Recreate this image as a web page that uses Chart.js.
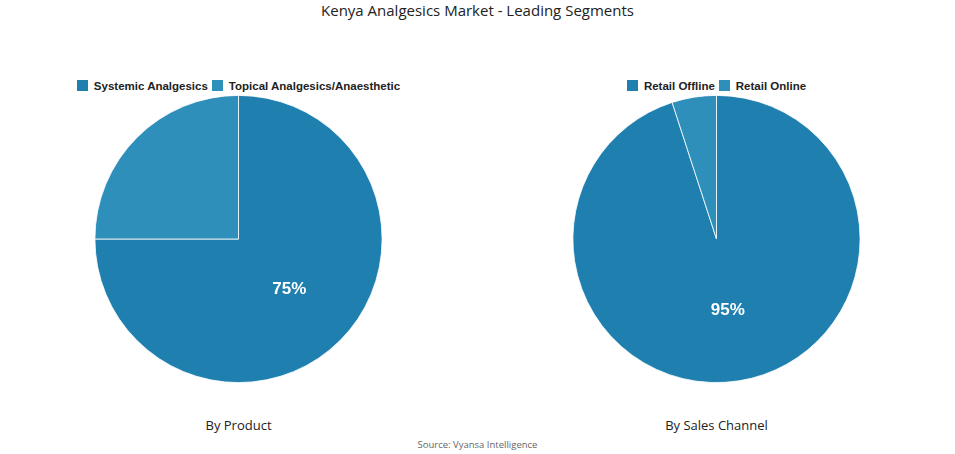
<!DOCTYPE html>
<html><head><meta charset="utf-8">
<script src="https://cdn.jsdelivr.net/npm/chart.js@4"></script>
<style>
body{margin:0;width:955px;height:454px;background:#fff;position:relative;font-family:"Open Sans",sans-serif;overflow:hidden}
.t{position:absolute;left:0;width:955px;text-align:center;color:#222}
.box{position:absolute;top:95px;width:477px;height:288px}
.lab{position:absolute;top:416px;width:477px;text-align:center;font-size:13px;color:#222}
.leg{position:absolute;top:79px;width:477px;text-align:center;font:bold 11.5px 'Liberation Sans',Arial;color:#222;line-height:14px}
.leg span{display:inline-block;margin:0 2px}
.leg i{display:inline-block;width:11px;height:11px;vertical-align:-1px;margin-right:6px}
</style></head><body>
<div class="t" style="top:0px;font-size:15px">Kenya Analgesics Market - Leading Segments</div>
<div class="leg" id="l1" style="left:0"></div>
<div class="leg" id="l2" style="left:478px"></div>
<div class="box" style="left:0"><canvas id="c1"></canvas></div>
<div class="box" style="left:478px"><canvas id="c2"></canvas></div>
<div class="lab" style="left:0">By Product</div>
<div class="lab" style="left:478px">By Sales Channel</div>
<div class="t" style="top:438px;font-size:9.5px;color:#666">Source: Vyansa Intelligence</div>
<script>
const productLabels=["Systemic Analgesics","Topical Analgesics/Anaesthetic"];
const productValues=[75,25];
const channelLabels=["Retail Offline","Retail Online"];
const channelValues=[95,5];
const colors=["#1f80b0","#2f8fbb"];
const pctPlugin={id:'pct',afterDatasetsDraw(ch){
  const ds=ch.data.datasets[0];const meta=ch.getDatasetMeta(0);
  const tot=ds.data.reduce((a,b)=>a+b,0);
  const ctx=ch.ctx;
  meta.data.forEach((arc,i)=>{
    if(ds.data[i]/tot<0.5)return;
    const p=arc.getCenterPoint();
    ctx.save();ctx.fillStyle="#fff";ctx.font="bold 17px 'Liberation Sans',Arial";ctx.textAlign="center";ctx.textBaseline="middle";
    ctx.fillText(Math.round(ds.data[i]/tot*100)+"%",p.x,p.y);ctx.restore();
  });
}};
function mk(id,lid,labels,values){
  document.getElementById(lid).innerHTML=labels.map((l,i)=>`<span><i style="background:${colors[i]}"></i>${l}</span>`).join('');
  new Chart(document.getElementById(id),{type:'pie',
    data:{labels:labels,datasets:[{data:values,backgroundColor:colors,borderColor:"#ffffff",borderWidth:0.8}]},
    options:{responsive:true,maintainAspectRatio:false,animation:false,
      layout:{padding:0},
      plugins:{tooltip:{enabled:false},legend:{display:false}}},
    plugins:[pctPlugin]});
}
mk('c1','l1',productLabels,productValues);
mk('c2','l2',channelLabels,channelValues);
</script></body></html>
